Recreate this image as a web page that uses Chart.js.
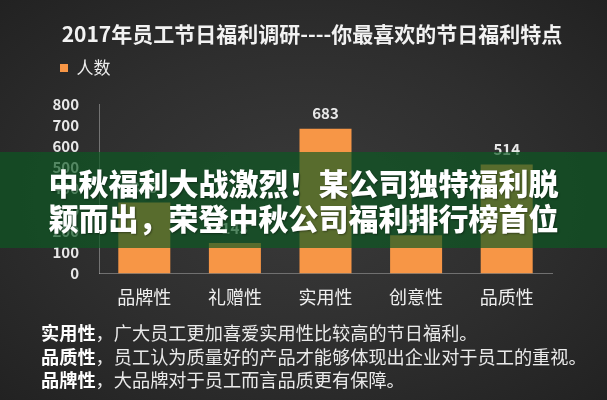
<!DOCTYPE html>
<html lang="zh">
  <head>
    <meta charset="UTF-8" />
    <title>2017年员工节日福利调研</title>
    <script src="https://cdn.jsdelivr.net/npm/chart.js"></script>
    <style>
      html, body { margin: 0; padding: 0; }
      body {
        width: 607px; height: 400px; overflow: hidden; position: relative;
        background: radial-gradient(ellipse at 50% 50%, #3a3a3a 0%, #2e2e2e 55%, #222 100%);
        font-family: "Noto Sans CJK SC", "Noto Sans", sans-serif;
      }
      #wrap { position: absolute; left: 0; top: 0; width: 607px; height: 400px; }
      #banner {
        position: absolute; left: 0; top: 152px; width: 607px; height: 96px;
        background: rgba(12, 88, 34, 0.68);
        color: #fff; font-weight: 900; font-size: 30px; line-height: 35px;
        text-align: center; box-sizing: border-box; padding-top: 13px;
        text-shadow: 1px 1px 2px rgba(0, 0, 0, 0.4);
      }
      #notes {
        position: absolute; left: 41px; top: 321px;
        color: #eaeaea; font-size: 18.2px; line-height: 23.5px;
      }
      #notes b { color: #fff; }
    </style>
  </head>
  <body>
    <div id="wrap"><canvas id="chart"></canvas></div>
    <div id="banner">中秋福利大战激烈！某公司独特福利脱<br>颖而出，荣登中秋公司福利排行榜首位</div>
    <div id="notes">
      <div><b>实用性</b>，广大员工更加喜爱实用性比较高的节日福利。</div>
      <div><b>品质性</b>，员工认为质量好的产品才能够体现出企业对于员工的重视。</div>
      <div><b>品牌性</b>，大品牌对于员工而言品质更有保障。</div>
    </div>

    <script>
      const categories = ["品牌性", "礼赠性", "实用性", "创意性", "品质性"];
      const counts = [335, 143, 683, 180, 514];
      const seriesName = "人数";
      const yMin = 0;
      const yMax = 800;
      const yStep = 100;

      const font = '"Noto Sans CJK SC", "Noto Sans", sans-serif';

      // value labels above each bar
      const valueLabels = {
        id: "valueLabels",
        afterDatasetsDraw(chart) {
          const c = chart.ctx;
          c.save();
          c.font = "bold 15px " + font;
          c.fillStyle = "#e8e8e8";
          c.textAlign = "center";
          c.textBaseline = "middle";
          chart.getDatasetMeta(0).data.forEach((bar, i) => {
            c.fillText(String(counts[i]), bar.x, bar.y - 15);
          });
          c.restore();
        }
      };

      new Chart(document.getElementById("chart"), {
        type: "bar",
        data: {
          labels: categories,
          datasets: [{
            label: seriesName,
            data: counts,
            backgroundColor: "#f79646",
            borderWidth: 0,
            categoryPercentage: 0.574,
            barPercentage: 1
          }]
        },
        options: {
          responsive: true,
          maintainAspectRatio: false,
          animation: false,
          layout: { padding: { left: 52, right: 35, top: 21, bottom: 79 } },
          plugins: {
            title: {
              display: true,
              text: "2017年员工节日福利调研----你最喜欢的节日福利特点",
              color: "#f2f2f2",
              font: { family: font, size: 21, weight: "bold" },
              padding: { top: 0, bottom: 5.3 }
            },
            legend: {
              display: true,
              position: "top",
              align: "start",
              labels: {
                color: "#eeeeee",
                font: { family: font, size: 17 },
                boxWidth: 8,
                boxHeight: 8,
                padding: 8
              }
            },
            tooltip: { enabled: false }
          },
          scales: {
            x: {
              grid: { display: false, drawTicks: false },
              border: { display: true, color: "#707070", width: 1 },
              ticks: {
                color: "#f0f0f0",
                font: { family: font, size: 18 },
                padding: 13,
                maxRotation: 0
              }
            },
            x2: {
              type: "category",
              position: "top",
              ticks: { display: false },
              grid: { display: false, drawTicks: false },
              border: { display: false },
              afterFit(s) { s.height = 17.5; }
            },
            y: {
              min: yMin,
              max: yMax,
              grid: { display: false, drawTicks: false },
              border: { display: true, color: "rgba(200,200,200,0.45)", width: 1 },
              ticks: {
                stepSize: yStep,
                autoSkip: false,
                color: "#e8e8e8",
                font: { family: font, size: 15, weight: "bold" },
                padding: 20
              },
              afterFit(s) { s.width = 47; }
            },
            y2: {
              position: "right",
              ticks: { display: false },
              grid: { display: false, drawTicks: false },
              border: { display: false },
              afterFit(s) { s.width = 20; }
            }
          }
        },
        plugins: [valueLabels]
      });
    </script>
  </body>
</html>
